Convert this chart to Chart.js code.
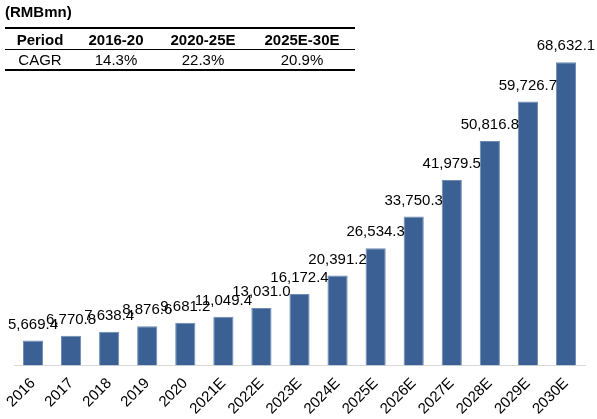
<!DOCTYPE html>
<html>
<head>
<meta charset="utf-8">
<script src="https://cdn.jsdelivr.net/npm/chart.js@4/dist/chart.umd.min.js"></script>
<style>
  body { margin: 0; background: #fff; font-family: Arial, "Liberation Sans", sans-serif; }
  #wrap { position: relative; width: 597px; height: 419px; }
  #unit { position: absolute; left: 5px; top: 3px; font-size: 15px; font-weight: bold; }
  table { position: absolute; left: 5px; top: 27px; width: 350px; border-collapse: collapse; font-size: 15px; table-layout: fixed; }
  th, td { text-align: center; padding: 0; line-height: 19px; }
  th { font-weight: bold; border-top: 2px solid #000; border-bottom: 1px solid #000; height: 20px; }
  td { border-bottom: 2px solid #000; height: 19px; }
</style>
</head>
<body>
<div id="wrap">
  <canvas id="chart" width="597" height="419"></canvas>
  <div id="unit">(RMBmn)</div>
  <table id="cagr">
    <colgroup><col style="width:70px"><col style="width:82px"><col style="width:92px"><col style="width:106px"></colgroup>
    <tr id="head"></tr>
    <tr id="vals"></tr>
  </table>
</div>
<script>
// chart data
const years = ["2016","2017","2018","2019","2020","2021E","2022E","2023E","2024E","2025E","2026E","2027E","2028E","2029E","2030E"];
const market = [5669.4, 6770.8, 7638.4, 8876.6, 9681.2, 11049.4, 13031.0, 16172.4, 20391.2, 26534.3, 33750.3, 41979.5, 50816.8, 59726.7, 68632.1];

// cagr table
const periods = ["Period", "2016-20", "2020-25E", "2025E-30E"];
const cagr = ["CAGR", "14.3%", "22.3%", "20.9%"];

let head = document.getElementById("head");
let vals = document.getElementById("vals");
periods.forEach(p => { head.innerHTML += "<th>" + p + "</th>"; });
cagr.forEach(c => { vals.innerHTML += "<td>" + c + "</td>"; });

const fmt = v => v.toLocaleString("en-US", { minimumFractionDigits: 1, maximumFractionDigits: 1 });

// labels over bars
const barLabels = {
  id: "barLabels",
  afterDatasetsDraw(chart) {
    const ctx = chart.ctx;
    ctx.save();
    ctx.font = "15px Arial, 'Liberation Sans'";
    ctx.fillStyle = "#000";
    ctx.textAlign = "center";
    ctx.textBaseline = "middle";
    chart.getDatasetMeta(0).data.forEach((bar, i) => {
      ctx.fillText(fmt(market[i]), bar.x, bar.y - 16);
    });
    ctx.restore();
  }
};

new Chart(document.getElementById("chart"), {
  type: "bar",
  data: {
    labels: years,
    datasets: [{
      data: market,
      backgroundColor: "#3b6093",
      borderColor: "#6d8bb3",
      borderWidth: 1,
      barPercentage: 0.53,
      categoryPercentage: 1
    }]
  },
  options: {
    responsive: false,
    animation: false,
    layout: { padding: { top: 34, left: 14, right: 12, bottom: 0 } },
    plugins: { legend: { display: false }, tooltip: { enabled: false } },
    scales: {
      x: {
        grid: { display: false },
        border: { color: "#d9d9d9", width: 1 },
        ticks: {
          color: "#000",
          font: { family: "Arial, 'Liberation Sans'", size: 15 },
          maxRotation: 45,
          minRotation: 45,
          padding: 1
        }
      },
      y: {
        display: false,
        min: 0,
        max: 75000
      }
    }
  },
  plugins: [barLabels]
});
</script>
</body>
</html>
